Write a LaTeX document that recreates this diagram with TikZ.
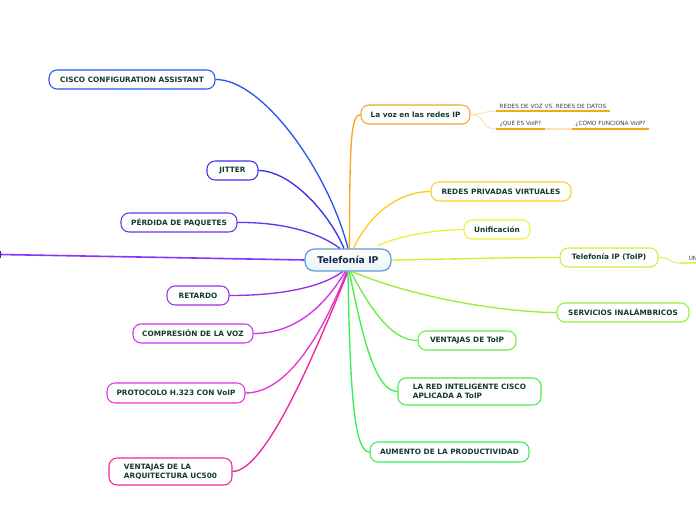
\documentclass[tikz,border=0pt]{standalone}
\usepackage{fontspec}
\setmainfont{DejaVu Sans}
\definecolor{txt}{HTML}{123B2C}
\definecolor{ctxt}{HTML}{16284A}
\definecolor{cblue}{HTML}{5B9BD5}
\definecolor{cisco}{HTML}{2A55F0}
\definecolor{jit}{HTML}{3A30F0}
\definecolor{perd}{HTML}{6633F0}
\definecolor{leftl}{HTML}{8A33FF}
\definecolor{ret}{HTML}{9A30E8}
\definecolor{comp}{HTML}{CC33EE}
\definecolor{prot}{HTML}{E433DD}
\definecolor{uc}{HTML}{F022A0}
\definecolor{voz}{HTML}{F5A623}
\definecolor{vozl}{HTML}{FCE2B8}
\definecolor{rpv}{HTML}{FFCC22}
\definecolor{unif}{HTML}{EEEE40}
\definecolor{toip}{HTML}{CCEE33}
\definecolor{serv}{HTML}{99EE33}
\definecolor{vtoip}{HTML}{66EE44}
\definecolor{lared}{HTML}{44EE44}
\definecolor{aum}{HTML}{33EE55}
\tikzset{
  topic/.style={draw=#1, line width=0.8pt, rounded corners=6pt, fill=white,
    inner sep=0pt, minimum height=14.25pt, text=txt,
    font=\fontsize{5.5}{6.6}\selectfont\bfseries},
  twoline/.style={topic=#1, minimum height=20.25pt, align=left},
  conn/.style={draw=#1, line width=1pt},
  sub/.style={inner sep=0pt, text=black!75, font=\fontsize{4.3}{5}\selectfont, anchor=south},
  uline/.style={draw=voz, line width=1.2pt},
}
\begin{document}
\begin{tikzpicture}[x=0.75pt,y=-0.75pt]
\useasboundingbox (0,0) rectangle (696,520);
% central
\node[draw=cblue, line width=0.9pt, rounded corners=7pt, inner sep=0pt,
  minimum width=64.5pt, minimum height=16.5pt, top color=white, bottom color=cblue!12,
  text=ctxt, font=\fontsize{7}{8}\selectfont\bfseries] (c) at (348,260) {Telefonía IP};
% left topics
\node[topic=cisco, minimum width=124.5pt] (cisco) at (132,79.5) {CISCO CONFIGURATION ASSISTANT};
\node[topic=jit, minimum width=38.25pt] (jit) at (232.5,170.5) {JITTER};
\node[topic=perd, minimum width=87pt] (perd) at (179,222.5) {PÉRDIDA DE PAQUETES};
\node[topic=ret, minimum width=46.5pt] (ret) at (198,295.5) {RETARDO};
\node[topic=comp, minimum width=90pt] (comp) at (193,333.5) {COMPRESIÓN DE LA VOZ};
\node[topic=prot, minimum width=103.5pt, minimum height=15pt] (prot) at (176,393) {PROTOCOLO H.323 CON VoIP};
\node[twoline=uc, minimum width=92.25pt] (uc) at (170.5,471.5) {VENTAJAS DE LA\\ARQUITECTURA UC500};
\coordinate (lend) at (0,254.5);
% right topics
\node[topic=voz, minimum width=81.75pt] (voz) at (415.5,114.5) {La voz en las redes IP};
\node[topic=rpv, minimum width=105pt] (rpv) at (501,191.5) {REDES PRIVADAS VIRTUALES};
\node[topic=unif, minimum width=49.5pt] (unif) at (497,229.5) {Unificación};
\node[topic=toip, minimum width=73.5pt] (toip) at (609,257.5) {Telefonía IP (ToIP)};
\node[topic=serv, minimum width=99pt] (serv) at (623,312.5) {SERVICIOS INALÁMBRICOS};
\node[topic=vtoip, minimum width=73.5pt] (vtoip) at (467,340.5) {VENTAJAS DE ToIP};
\node[twoline=lared, minimum width=107.25pt] (lared) at (469.5,391.5) {LA RED INTELIGENTE CISCO\\APLICADA A ToIP};
\node[topic=aum, minimum width=119.25pt, minimum height=15pt] (aum) at (449.5,452) {AUMENTO DE LA PRODUCTIVIDAD};
% subtopics
\node[sub, minimum width=85.5pt, inner ysep=1.5pt] (rv) at (553,111) {REDES DE VOZ VS. REDES DE DATOS};
\node[sub, minimum width=36.75pt, inner ysep=1.5pt] (qe) at (520.5,129) {¿QUÉ ES VoIP?};
\node[sub, minimum width=57.75pt, inner ysep=1.5pt] (cf) at (610.5,129) {¿CÓMO FUNCIONA VoIP?};
\node[sub, anchor=south west, inner ysep=1.5pt, inner xsep=0pt] (un) at (688.5,263) {UN};
\coordinate (unst) at (680,263);
% connectors
\draw[conn=cisco] (cisco.east) .. controls (262,79) and (328,170) .. (c.north);
\draw[conn=jit] (jit.east) .. controls (292,171) and (330,215) .. ([xshift=-3]c.north);
\draw[conn=perd] (perd.east) .. controls (282,222) and (318,232) .. ([xshift=-6]c.north);
\draw[conn=leftl, line width=1.2pt] (c.west) -- (lend);
\draw[leftl!60!black, line width=0.9pt] ([yshift=-2.5]lend) -- ([yshift=2.5]lend);
\draw[conn=ret] (ret.east) .. controls (282,295.5) and (322,287) .. ([xshift=-4]c.south);
\draw[conn=comp] (comp.east) .. controls (300,333.5) and (328,300) .. ([xshift=-2]c.south);
\draw[conn=prot] (prot.east) .. controls (292,393) and (328,320) .. ([xshift=-1]c.south);
\draw[conn=uc] (uc.east) .. controls (268,471.5) and (322,335) .. (c.south);
\draw[conn=voz] ([xshift=1]c.north) .. controls (350,150) and (350,114.5) .. (voz.west);
\draw[conn=rpv] ([xshift=4]c.north) .. controls (372,210) and (402,191.5) .. (rpv.west);
\draw[conn=unif] ([xshift=22,yshift=2]c.north) .. controls (400,235) and (440,229.5) .. (unif.west);
\draw[conn=toip] (c.east) .. controls (460,259) and (500,257.5) .. (toip.west);
\draw[conn=serv] ([xshift=3]c.south) .. controls (420,300) and (510,312.5) .. (serv.west);
\draw[conn=vtoip] ([xshift=2]c.south) .. controls (375,318) and (395,340.5) .. (vtoip.west);
\draw[conn=lared] ([xshift=1]c.south) .. controls (362,335) and (375,391.5) .. (lared.west);
\draw[conn=aum] (c.south) .. controls (350,400) and (355,452) .. (aum.west);
% sub branches
\draw[draw=vozl, line width=0.8pt] (voz.east) .. controls (484,114.5) and (484,111) .. (rv.south west);
\draw[draw=vozl, line width=0.8pt] (voz.east) .. controls (486,114.5) and (480,129) .. (qe.south west);
\draw[draw=vozl, line width=1.2pt] (qe.south east) -- (cf.south west);
\draw[uline] (rv.south west) -- (rv.south east);
\draw[uline] (qe.south west) -- (qe.south east);
\draw[uline] (cf.south west) -- (cf.south east);
\draw[draw=toip!70, line width=0.8pt] (toip.east) .. controls (672,257.5) and (668,263) .. (unst);
\draw[draw=toip!70, line width=1.2pt] (unst) -- (un.south west) -- (un.south east);
\end{tikzpicture}
\end{document}
